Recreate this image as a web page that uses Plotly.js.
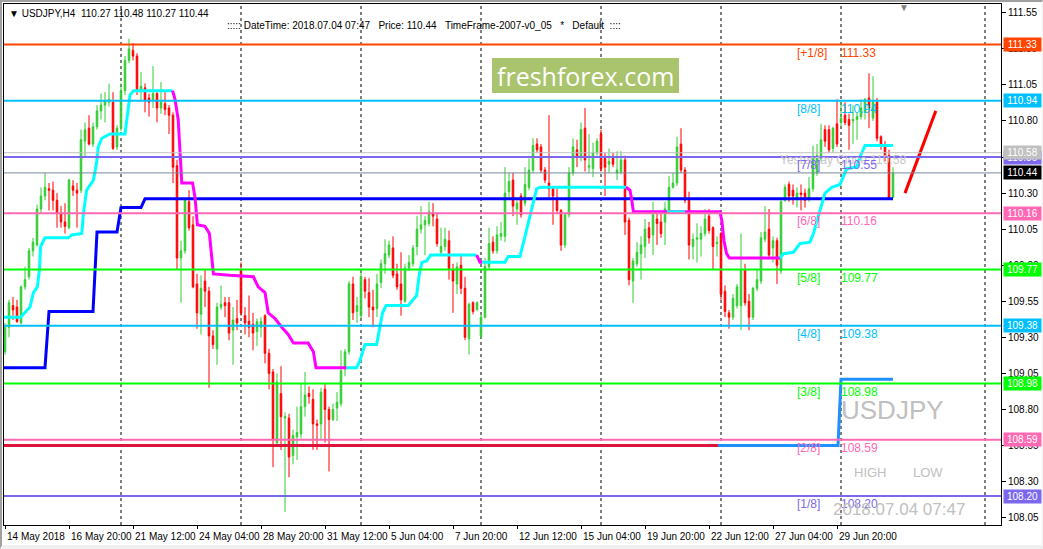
<!DOCTYPE html>
<html><head><meta charset="utf-8">
<script src="https://cdn.plot.ly/plotly-3.0.1.min.js"></script>
<style>
html,body{margin:0;padding:0;background:#fff;}
#wrap{position:relative;width:1043px;height:549px;overflow:hidden;}
#chart{position:absolute;left:0;top:0;width:1043px;height:549px;}
#edge{position:absolute;left:0;top:0;width:1043px;height:549px;box-sizing:border-box;pointer-events:none;
 border-top:2px solid #a0a0a0;border-left:2px solid #a0a0a0;border-bottom:4px solid #f0f0f0;border-right:1px solid #f0f0f0;}
</style>
</head><body>
<div id="wrap"><div id="chart"></div><div id="edge"></div></div>
<script>
// ---------- USDJPY H4 candles (bars 1..223, 14 May 2018 04:00 .. 4 Jul 2018 04:00) ----------
const open = [109.20,109.37,109.52,109.51,109.40,109.65,109.72,109.90,109.94,110.19,
110.28,110.33,110.32,110.25,110.16,110.10,110.06,110.35,110.32,110.32,
110.66,110.75,110.64,110.76,110.87,110.91,110.93,110.93,110.62,110.75,
111.01,111.22,111.29,111.25,111.01,111.03,110.96,110.94,110.99,110.89,
110.92,110.89,110.84,110.49,109.85,109.90,110.24,110.08,109.67,109.46,
109.69,109.62,109.31,109.22,109.51,109.54,109.54,109.35,109.43,109.77,
109.45,109.41,109.39,109.34,109.37,109.45,109.19,109.06,108.57,108.91,
108.74,108.74,108.48,108.61,108.63,108.82,108.91,108.87,108.70,108.70,
108.94,108.80,108.73,108.81,108.84,109.08,109.20,109.67,109.48,109.45,
109.70,109.61,109.51,109.50,109.68,109.81,109.87,109.92,109.74,109.67,
109.55,109.78,109.81,109.93,110.05,110.08,110.09,110.16,110.12,109.89,
109.93,109.97,109.77,109.67,109.80,109.64,109.29,109.54,109.49,109.31,
109.44,109.79,109.96,109.90,110.00,110.00,110.31,110.39,110.19,110.28,
110.23,110.34,110.46,110.64,110.62,110.46,110.37,110.33,110.25,110.18,
109.94,110.15,110.44,110.60,110.55,110.75,110.48,110.47,110.58,110.71,
110.54,110.50,110.54,110.44,110.45,110.53,110.11,109.69,109.81,109.88,
109.93,110.06,110.01,110.12,110.10,110.10,110.18,110.34,110.37,110.64,
110.46,110.25,109.93,109.98,109.98,110.02,110.14,110.06,109.95,110.02,
109.62,109.47,109.44,109.52,109.52,109.77,109.55,109.44,109.64,109.69,
109.98,110.05,109.92,109.97,109.76,110.25,110.36,110.32,110.26,110.30,
110.30,110.26,110.33,110.44,110.54,110.74,110.74,110.61,110.78,110.79,
110.84,110.81,110.80,110.81,110.83,110.86,110.96,110.82,110.93,110.69,
110.63,110.56,110.27];
const high = [109.40,109.56,109.58,109.56,109.66,109.79,109.92,109.99,110.22,110.34,
110.44,110.37,110.38,110.30,110.21,110.23,110.40,110.39,110.37,110.74,
110.79,110.84,110.79,110.91,110.99,111.00,111.06,111.00,110.77,111.06,
111.25,111.37,111.34,111.27,111.14,111.06,110.99,111.18,111.01,111.07,
111.01,110.91,110.86,110.53,109.97,110.26,110.32,110.14,109.74,109.73,
109.77,109.65,109.35,109.54,109.66,109.58,109.58,109.51,109.56,109.82,
109.51,109.59,109.47,109.43,109.44,109.46,109.22,109.08,109.05,109.10,
108.78,108.77,108.66,108.82,108.98,109.06,108.96,108.94,108.73,108.95,
108.98,108.82,108.84,108.92,109.21,109.22,109.69,109.72,109.58,109.77,
109.72,109.71,109.63,109.74,109.84,109.98,109.97,110.00,109.81,109.89,
109.81,109.87,109.94,110.14,110.21,110.14,110.24,110.23,110.16,110.06,
110.06,110.04,109.81,109.82,109.88,109.72,109.54,109.55,109.55,109.46,
109.85,110.06,110.00,110.07,110.10,110.48,110.44,110.44,110.25,110.30,
110.48,110.54,110.68,110.68,110.64,110.48,110.84,110.34,110.34,110.19,
110.16,110.48,110.68,110.67,110.79,110.89,110.71,110.65,110.68,110.74,
110.58,110.61,110.58,110.59,110.59,110.56,110.13,109.85,109.96,110.00,
110.12,110.10,110.24,110.17,110.16,110.24,110.42,110.44,110.69,110.75,
110.48,110.31,110.02,110.09,110.07,110.19,110.19,110.07,110.00,110.03,
109.66,109.49,109.60,109.67,110.02,109.81,109.60,109.65,109.77,110.03,
110.21,110.19,110.00,109.99,110.26,110.36,110.38,110.36,110.34,110.36,
110.33,110.41,110.63,110.64,110.78,110.77,110.77,110.76,110.95,110.93,
110.93,110.85,110.91,110.86,110.95,110.96,111.13,111.11,110.96,110.70,
110.66,110.60,110.48];
const low = [109.18,109.30,109.42,109.40,109.39,109.63,109.70,109.86,109.93,110.16,
110.25,110.18,110.18,110.06,110.06,110.02,110.05,110.28,110.06,110.30,
110.55,110.63,110.62,110.74,110.81,110.79,110.90,110.60,110.60,110.73,
110.98,111.20,111.22,110.98,110.94,110.86,110.83,110.89,110.79,110.85,
110.84,110.71,110.37,109.77,109.54,109.88,110.04,109.64,109.36,109.32,
109.51,108.95,109.22,109.11,109.49,109.44,109.28,109.11,109.35,109.45,
109.32,109.30,109.21,109.24,109.30,109.12,108.94,108.40,108.55,108.52,
108.09,108.33,108.42,108.45,108.60,108.75,108.84,108.52,108.52,108.59,
108.57,108.37,108.72,108.72,108.82,109.03,109.18,109.42,109.40,109.43,
109.57,109.44,109.37,109.44,109.64,109.74,109.85,109.71,109.63,109.45,
109.54,109.76,109.79,109.87,110.02,109.87,110.07,110.07,109.93,109.87,
109.90,109.70,109.47,109.60,109.60,109.28,109.18,109.46,109.49,109.29,
109.43,109.77,109.88,109.88,109.97,109.96,110.27,110.14,110.08,110.13,
110.21,110.32,110.44,110.58,110.44,110.37,110.27,110.08,110.16,109.90,
109.92,110.13,110.42,110.48,110.52,110.45,110.44,110.41,110.56,110.45,
110.28,110.44,110.48,110.39,110.43,110.01,109.66,109.54,109.79,109.70,
109.85,109.95,109.87,109.94,109.99,109.94,110.16,110.33,110.35,110.44,
110.23,109.84,109.84,109.82,109.86,110.00,110.02,109.77,109.86,109.56,
109.44,109.36,109.42,109.50,109.35,109.52,109.35,109.42,109.62,109.67,
109.96,109.85,109.82,109.67,109.74,110.24,110.24,110.22,110.20,110.18,
110.20,110.24,110.31,110.42,110.52,110.62,110.58,110.58,110.62,110.76,
110.77,110.60,110.64,110.67,110.81,110.81,110.75,110.80,110.66,110.60,
110.52,110.27,110.27];
const close = [109.37,109.54,109.49,109.41,109.65,109.70,109.90,109.96,110.19,110.28,
110.34,110.32,110.25,110.16,110.10,110.07,110.39,110.32,110.30,110.67,
110.74,110.64,110.76,110.87,110.91,110.94,110.95,110.61,110.75,111.01,
111.22,111.30,111.25,111.01,111.04,110.94,110.93,110.99,110.89,110.93,
110.88,110.84,110.48,109.85,109.90,110.25,110.06,109.65,109.47,109.64,
109.62,109.31,109.25,109.51,109.53,109.52,109.33,109.42,109.40,109.47,
109.40,109.37,109.33,109.41,109.41,109.19,109.05,108.59,108.99,108.75,
108.75,108.47,108.62,108.64,108.82,108.90,108.89,108.70,108.69,108.92,
108.80,108.73,108.80,108.85,109.07,109.20,109.67,109.47,109.52,109.72,
109.62,109.51,109.49,109.67,109.81,109.88,109.94,109.73,109.65,109.56,
109.78,109.82,109.92,110.05,110.08,110.11,110.17,110.14,109.95,109.93,
109.98,109.77,109.69,109.79,109.64,109.30,109.53,109.48,109.54,109.44,
109.79,109.95,109.90,110.01,110.02,110.30,110.38,110.21,110.23,110.15,
110.36,110.46,110.63,110.60,110.46,110.39,110.33,110.28,110.18,109.94,
110.15,110.44,110.62,110.55,110.74,110.53,110.49,110.58,110.66,110.47,
110.48,110.52,110.50,110.46,110.53,110.10,109.70,109.83,109.89,109.94,
110.05,109.99,110.15,110.09,110.02,110.19,110.34,110.37,110.62,110.46,
110.25,109.94,109.98,109.99,110.02,110.12,110.04,109.93,109.96,109.60,
109.48,109.44,109.57,109.65,109.77,109.54,109.44,109.64,109.70,109.99,
110.03,109.87,109.97,109.80,110.24,110.34,110.28,110.28,110.30,110.29,
110.25,110.33,110.54,110.56,110.67,110.66,110.60,110.75,110.64,110.82,
110.79,110.77,110.81,110.83,110.89,110.95,110.89,110.93,110.68,110.63,
110.55,110.27,110.44];

// time axis (bar numbers and their labels)
const timeTickBars = [1,17,33,49,65,81,97,113,129,145,161,177,193,209];
const timeTickLabels = ['14 May 2018','16 May 20:00','21 May 12:00','24 May 04:00','28 May 20:00','31 May 12:00','5 Jun 04:00','7 Jun 20:00','12 Jun 12:00','15 Jun 04:00','19 Jun 20:00','22 Jun 12:00','27 Jun 04:00','29 Jun 20:00'];
const weekStartBars = [30,60,90,120,150,180,210,246];
const priceTicks = [108.05,108.30,108.55,108.80,109.05,109.30,109.55,109.80,110.05,110.30,110.55,110.80,111.05,111.30,111.55];

// Murrey math levels
const murreyNames = ['[+1/8]','[8/8]','[7/8]','[6/8]','[5/8]','[4/8]','[3/8]','[2/8]','[1/8]'];
const murreyLevels = [111.33,110.94,110.55,110.16,109.77,109.38,108.98,108.59,108.20];
const murreyColors = ['#FF4500','#00BFFF','#7B68EE','#FF69B4','#00FF00','#00BFFF','#00FF00','#FF69B4','#7B68EE'];
const yesterdayClose = 110.58;

// blue step indicator
const stepBars = [0,11,12,23,24,29,30,35,36,223];
const stepVals = [109.09,109.09,109.48,109.48,110.03,110.03,110.20,110.20,110.26,110.26];

// trailing line: up (cyan) and down (magenta) segments
const up1Bars = [0,4.9,7.25,8.1,9.1,9.6,9.9,11,16.8,17.7,20.2,20.6,21.4,23.1,23.9,24.3,25.2,27.25,31,31.4,32.25,33.1,42.9];
const up1Vals = [109.44,109.44,109.51,109.61,109.65,109.77,109.93,109.99,109.99,110.01,110.02,110.16,110.32,110.39,110.51,110.62,110.68,110.71,110.71,110.81,110.98,111.01,111.01];
const dn1Bars = [42.9,43.5,44.3,44.75,45.2,47.9,48.5,49.1,51,52.1,52.75,53.1,57.25,63.1,64.3,66,66.8,68.5,70.2,71.8,73.1,76.8,78.1,78.75,86.4];
const dn1Vals = [111.01,110.95,110.81,110.58,110.37,110.37,110.27,110.08,110.07,110.02,109.86,109.74,109.73,109.72,109.65,109.61,109.47,109.43,109.37,109.32,109.26,109.26,109.20,109.09,109.09];
const up2Bars = [86.4,88.9,89.75,91,93.9,94.75,95.4,96.25,101.8,103.9,104.6,105.2,106.4,107.4,118.9];
const up2Vals = [109.09,109.09,109.14,109.25,109.25,109.37,109.47,109.52,109.52,109.59,109.74,109.82,109.83,109.87,109.87];
const dn2Bars = [118.9,119.75,120.3];
const dn2Vals = [109.87,109.82,109.82];
const up3Bars = [120.3,126,126.8,129.75,131,132.25,133.1,133.9,134.75,156.25];
const up3Vals = [109.82,109.82,109.86,109.86,110.00,110.14,110.23,110.33,110.34,110.34];
const dn3Bars = [156.25,157.25,157.7,158.1,179.75,180.2,180.75,181.4,182.1,194.75];
const dn3Vals = [110.34,110.32,110.25,110.17,110.17,110.11,109.97,109.88,109.85,109.85];
const up4Bars = [166.5,171];
const up4Vals = [110.17,110.17];
const up5Bars = [194.75,195.6,198.1,199.75,202.25,203.1,204.75,206,207.7,209.75,211.4,213.9,214.75,216,223];
const up5Vals = [109.85,109.88,109.89,109.95,109.96,110.02,110.18,110.30,110.34,110.36,110.47,110.48,110.55,110.63,110.63];

// weekly low line (crimson) and current-week line (dodger blue)
const prevLowBars = [0,179.25];
const prevLowVals = [108.55,108.55];
const curLowBars = [179.25,209.25,210,223];
const curLowVals = [108.55,108.55,109.01,109.01];

// red trend stroke
const trendBars = [226,233.7];
const trendVals = [110.30,110.87];

// ---------- drawing ----------
const barIndex = open.map((_, i) => i + 1);
const last = open.length - 1;
const F = 'Liberation Sans, Arial, sans-serif';
const L = 4, T = 4, PW = 997, PH = 521;
const pa = px => (px - L) / PW;
const pb = py => (T + PH - py) / PH;

const traces = [];
traces.push({type:'candlestick', x: barIndex, open, high, low, close,
  increasing:{line:{color:'#32CD32', width:1}, fillcolor:'#32CD32'},
  decreasing:{line:{color:'#FF0000', width:1}, fillcolor:'#FF0000'},
  whiskerwidth:0, hoverinfo:'skip', showlegend:false});
function line(x, y, color, w) {
  traces.push({type:'scatter', mode:'lines', x, y, line:{color, width:w}, hoverinfo:'skip', showlegend:false});
}
line(prevLowBars, prevLowVals, '#DC143C', 3);
line(curLowBars, curLowVals, '#1E90FF', 3);
line(stepBars, stepVals, '#0000FF', 3);
line(up1Bars, up1Vals, '#00FFFF', 3);
line(dn1Bars, dn1Vals, '#FF00FF', 3);
line(up2Bars, up2Vals, '#00FFFF', 3);
line(dn2Bars, dn2Vals, '#FF00FF', 3);
line(up3Bars, up3Vals, '#00FFFF', 3);
line(dn3Bars, dn3Vals, '#FF00FF', 3);
line(up4Bars, up4Vals, '#00FFFF', 3);
line(up5Bars, up5Vals, '#00FFFF', 3);
line(trendBars, trendVals, '#FF0000', 3);

const shapes = [];
weekStartBars.forEach(b => shapes.push({type:'line', xref:'x', yref:'paper', x0:b, x1:b, y0:0, y1:1,
  line:{color:'#000', width:1, dash:'3px,3px'}, layer:'below'}));
shapes.push({type:'line', xref:'paper', yref:'y', x0:0, x1:1, y0:yesterdayClose, y1:yesterdayClose, line:{color:'#C0C0C0', width:1}});
murreyLevels.forEach((v, i) => shapes.push({type:'line', xref:'paper', yref:'y', x0:0, x1:1, y0:v, y1:v,
  line:{color:murreyColors[i], width:2}}));
shapes.push({type:'line', xref:'paper', yref:'y', x0:0, x1:1, y0:close[last], y1:close[last], line:{color:'#778899', width:1}});
shapes.push({type:'rect', xref:'paper', yref:'paper', x0:pa(492), x1:pa(679), y0:pb(93), y1:pb(58),
  fillcolor:'#A9C46C', line:{width:0}, layer:'below'});

const ann = [];
function txt(text, x, y, size, color, xanchor, extra) {
  ann.push(Object.assign({text, x, y, xref:'paper', yref:'paper', showarrow:false, xanchor:xanchor||'left', yanchor:'middle',
    font:{family:F, size, color}}, extra||{}));
}
const f2 = v => v.toFixed(2);
const nb = '\u00a0';
txt('▼' + nb + 'USDJPY,H4' + nb + nb + f2(open[last]) + nb + f2(high[last]) + nb + f2(low[last]) + nb + f2(close[last]), pa(7), pb(13), 10, '#000');
txt(':::::' + nb + 'DateTime: 2018.07.04 07:47' + nb + nb + nb + 'Price: ' + f2(close[last]) + nb + nb + nb + 'TimeFrame-2007-v0_05' + nb + nb + nb + '*' + nb + nb + nb + 'Default' + nb + nb + '::::', pa(225), pb(26), 10, '#000');
txt('▼', pa(904), pb(7), 10, '#808080', 'center');
txt('freshforex.com', pa(585.5), pb(76), 25, '#FFFFFF', 'center', {font:{family:'Open Sans, sans-serif', size:25, color:'#FFFFFF'}});
txt('Yesterday Close ' + f2(yesterdayClose), pa(778), pb(160), 12, '#C8C8C8');
murreyLevels.forEach((v, i) => {
  ann.push({text:murreyNames[i], x:pa(795), xref:'paper', y:v, yref:'y', yshift:-8, showarrow:false, xanchor:'left', yanchor:'middle', font:{family:F, size:12, color:murreyColors[i]}});
  ann.push({text:f2(v), x:pa(839), xref:'paper', y:v, yref:'y', yshift:-8, showarrow:false, xanchor:'left', yanchor:'middle', font:{family:F, size:12, color:murreyColors[i]}});
});
txt('USDJPY', pa(892), pb(410), 26, '#C0C0C0', 'center');
txt('HIGH', pa(870), pb(472), 13, '#C0C0C0', 'center');
txt('LOW', pa(928), pb(472), 13, '#C0C0C0', 'center');
txt('2018.07.04 07:47', pa(899), pb(509), 17, '#C0C0C0', 'center');
// time labels
timeTickBars.forEach((b, i) => ann.push({text:timeTickLabels[i], x:b, xref:'x', y:0, yref:'paper', yshift:-4, xshift:0,
  showarrow:false, xanchor:'left', yanchor:'top', font:{family:F, size:10, color:'#000'}}));
// price boxes on the right scale
function box(v, bg, fg) {
  ann.push({text:f2(v), x:1, xref:'paper', xshift:2, y:v, yref:'y', showarrow:false, xanchor:'left', yanchor:'middle',
    bgcolor:bg, width:35, height:11, borderpad:1, align:'center', font:{family:F, size:10, color:fg}});
}
murreyLevels.forEach((v, i) => { if (i !== 2) box(v, murreyColors[i], '#FFFFFF'); });
box(murreyLevels[2], murreyColors[2], '#FFFFFF');
box(yesterdayClose, '#C0C0C0', '#FFFFFF');
box(close[last], '#000000', '#FFFFFF');

const layout = {
  width:1043, height:549, paper_bgcolor:'#FFFFFF', plot_bgcolor:'#FFFFFF',
  margin:{l:4, r:42, t:4, b:24}, showlegend:false, boxgap:0.45,
  font:{family:F, size:10, color:'#000'},
  xaxis:{range:[0.75, 250], showgrid:false, zeroline:false, showline:true, mirror:true, linecolor:'#000', linewidth:1,
    tickvals:timeTickBars, ticktext:timeTickBars.map(() => ''), ticks:'outside', ticklen:3, tickcolor:'#000',
    rangeslider:{visible:false}, fixedrange:true},
  yaxis:{range:[107.999, 111.611], side:'right', showgrid:false, zeroline:false, showline:true, mirror:true,
    linecolor:'#000', linewidth:1, tickvals:priceTicks, ticktext:priceTicks.map(f2), ticks:'outside', ticklen:4,
    tickcolor:'#000', tickfont:{family:F, size:10, color:'#000'}, fixedrange:true},
  shapes, annotations:ann
};
Plotly.newPlot('chart', traces, layout, {staticPlot:true, displayModeBar:false});
</script>
</body></html>
